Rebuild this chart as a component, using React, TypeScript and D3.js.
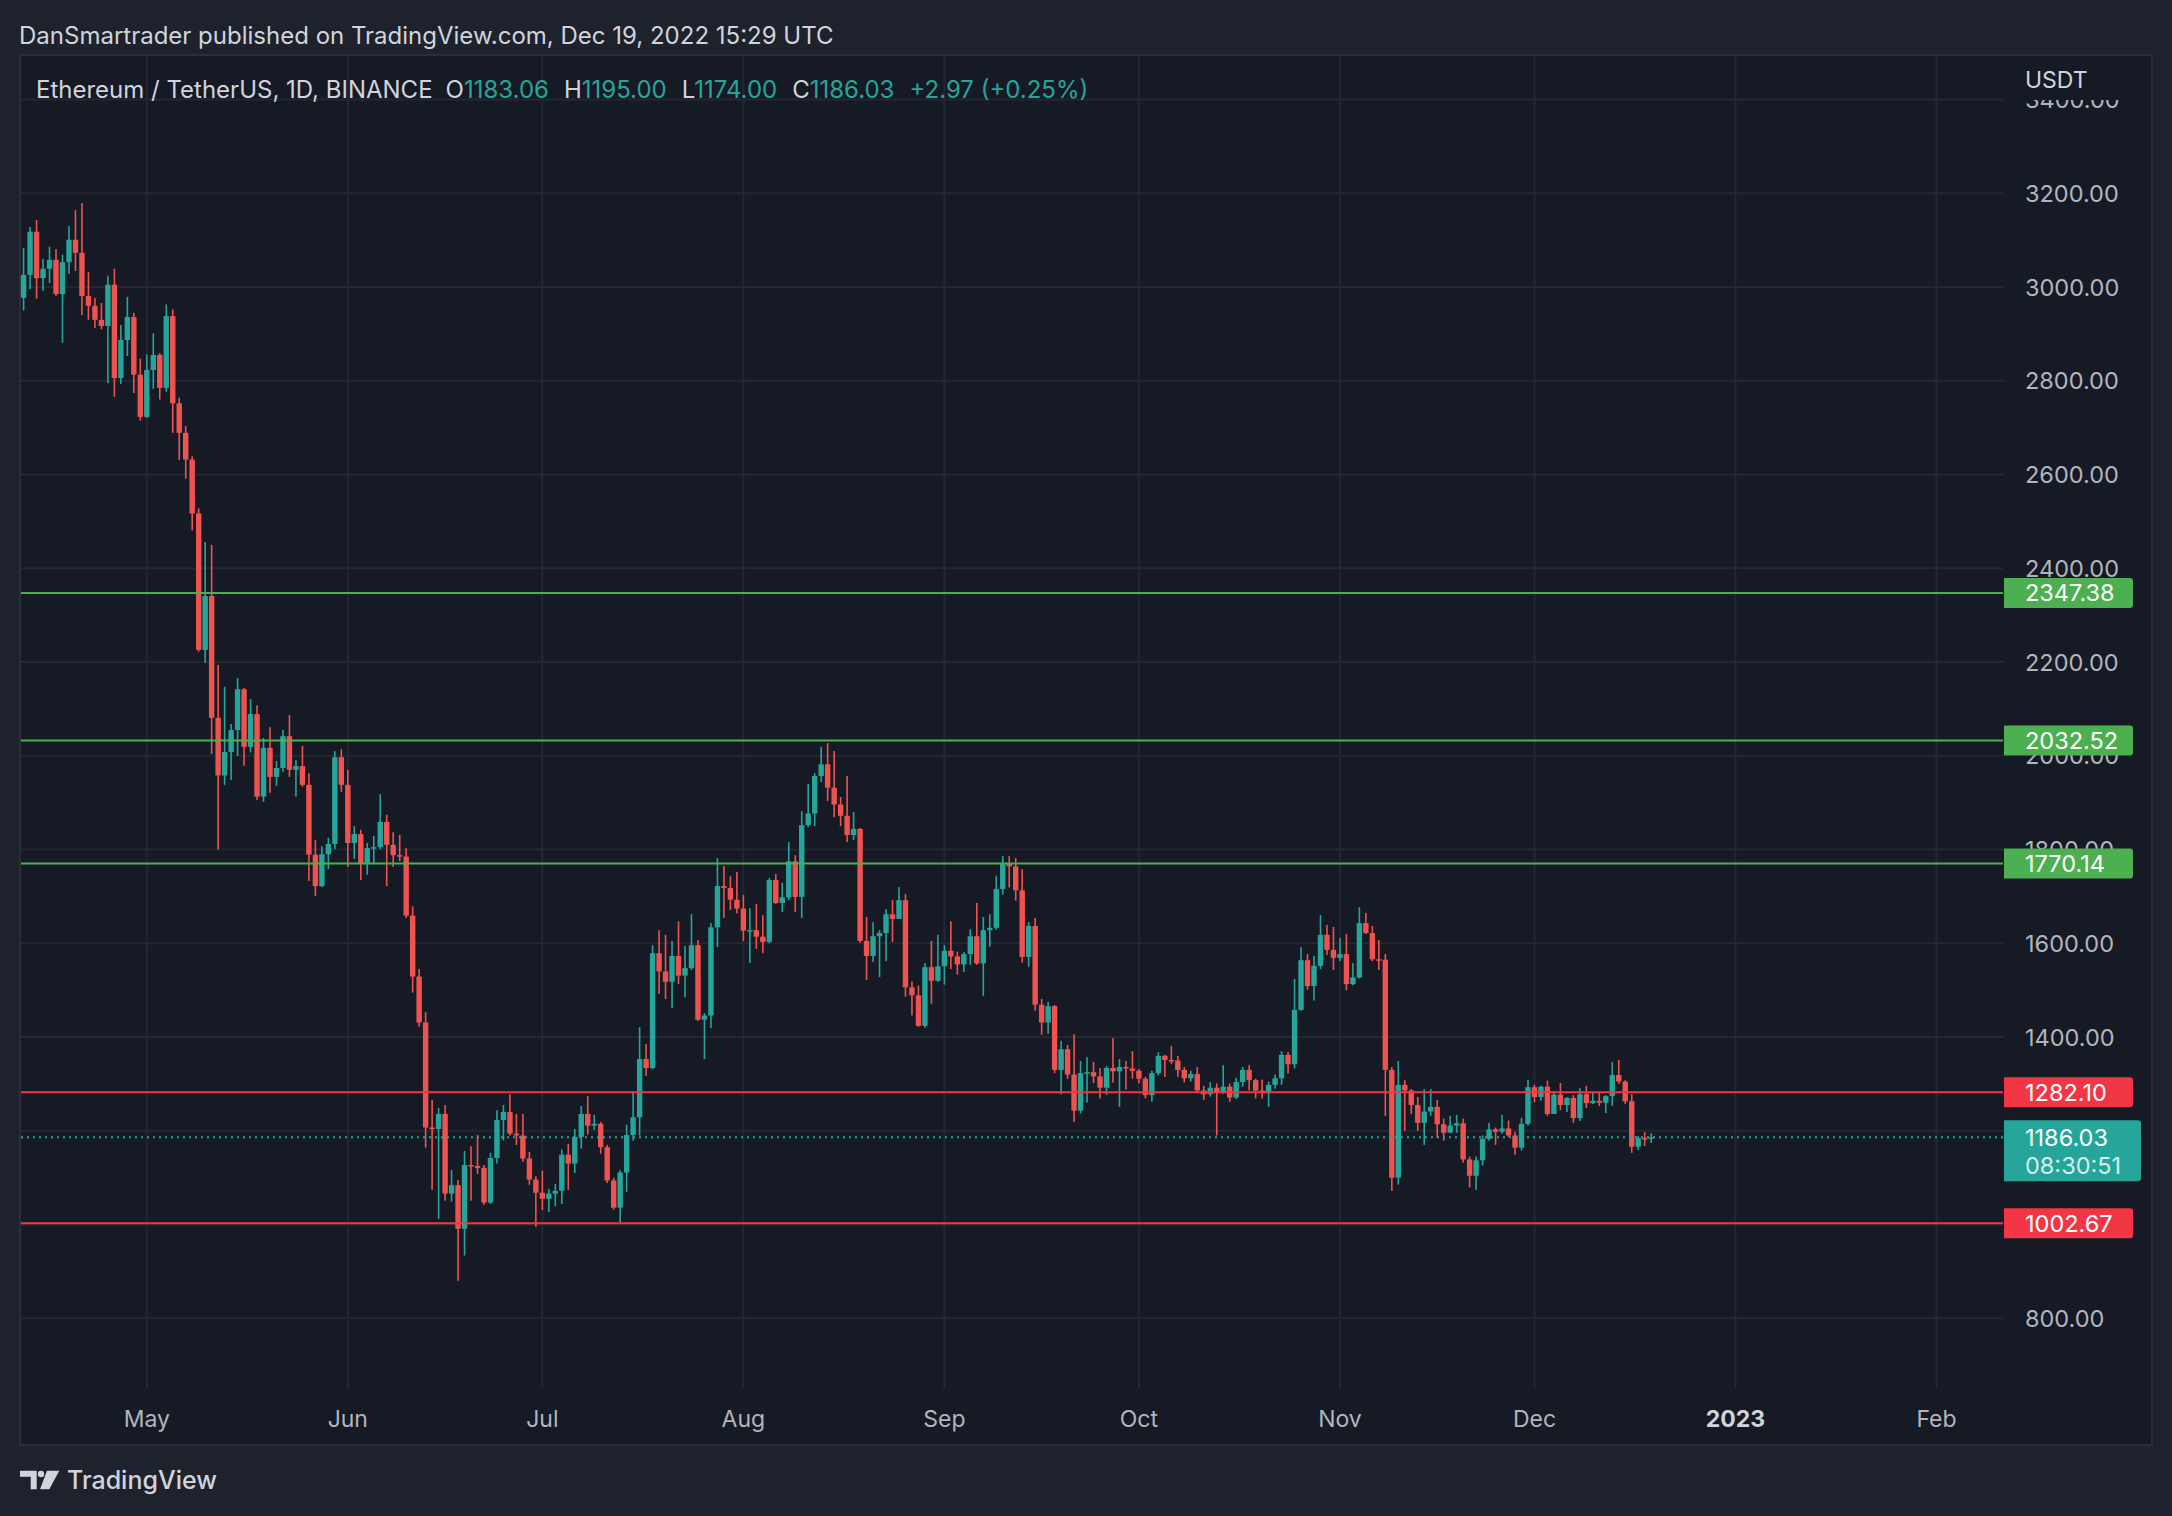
import React from 'react';
import * as d3 from 'd3';

const W = 2172;
const H = 1516;

// Daily candles [open, high, low, close], ETH/USDT Binance 1D
const apr22 = [ // from Apr 12
  [2977,3083,2950,3026],[3026,3128,2996,3118],[3118,3143,2975,3019],[3019,3060,2992,3039],
  [3039,3086,3009,3058],[3058,3081,2981,2985],[2985,3069,2881,3053],[3053,3130,3028,3101],
  [3101,3164,3034,3073],[3073,3179,2940,2981],[2981,3032,2930,2960],[2960,2977,2913,2930],
  [2930,2966,2910,2917],[2917,3024,2795,3005],[3005,3039,2766,2806],[2806,2919,2793,2887],
  [2887,2979,2853,2936],[2936,2945,2774,2813],[2813,2847,2715,2723],
];
const may22 = [
  [2723,2856,2721,2823],[2823,2901,2783,2855],[2855,2859,2760,2785],[2785,2963,2777,2938],
  [2938,2952,2689,2752],[2752,2764,2631,2689],[2689,2704,2591,2632],[2632,2639,2481,2517],
  [2517,2528,2222,2226],[2226,2456,2198,2341],[2341,2450,2004,2081],[2081,2194,1800,1958],
  [1958,2147,1938,2008],[2008,2068,1948,2055],[2055,2166,2000,2142],[2142,2145,1979,2019],
  [2019,2121,2007,2089],[2089,2108,1906,1913],[1913,2038,1902,2017],[2017,2061,1921,1955],
  [1955,1989,1936,1974],[1974,2055,1966,2042],[2042,2087,1955,1970],[1970,1991,1913,1978],
  [1978,2021,1934,1938],[1938,1963,1733,1789],[1789,1820,1701,1722],[1722,1807,1720,1790],
  [1790,1825,1758,1812],[1812,2010,1801,1997],[1997,2014,1923,1938],
];
const jun22 = [
  [1938,1970,1763,1814],[1814,1850,1780,1833],[1833,1842,1735,1769],[1769,1814,1746,1803],
  [1803,1829,1769,1805],[1805,1918,1801,1859],[1859,1874,1722,1810],[1810,1837,1763,1788],
  [1788,1831,1775,1785],[1785,1803,1654,1659],[1659,1679,1495,1529],[1529,1545,1422,1431],
  [1431,1453,1164,1207],[1207,1266,1074,1204],[1204,1249,1012,1236],[1236,1255,1051,1066],
  [1066,1116,1049,1084],[1084,1095,880,991],[991,1157,934,1127],[1127,1167,1051,1125],
  [1125,1191,1108,1121],[1121,1127,1042,1047],[1047,1153,1044,1142],[1142,1244,1130,1223],
  [1223,1255,1179,1240],[1240,1278,1190,1194],[1194,1236,1170,1190],[1190,1236,1134,1141],
  [1141,1155,1085,1096],[1096,1103,995,1068],
];
const jul22 = [
  [1068,1115,1031,1055],[1055,1076,1027,1066],[1066,1087,1039,1072],[1072,1160,1044,1149],
  [1149,1172,1074,1130],[1130,1204,1110,1187],[1187,1253,1162,1236],[1236,1274,1192,1211],
  [1211,1234,1202,1215],[1215,1219,1151,1165],[1165,1170,1089,1094],[1094,1100,1032,1036],
  [1036,1116,1004,1111],[1111,1213,1070,1191],[1191,1285,1179,1229],[1229,1421,1190,1353],
  [1353,1385,1317,1334],[1334,1596,1331,1579],[1579,1628,1492,1540],[1540,1618,1481,1518],
  [1518,1605,1462,1573],[1573,1647,1513,1531],[1531,1594,1485,1547],[1547,1662,1543,1596],
  [1596,1607,1434,1437],[1437,1451,1353,1446],[1446,1643,1419,1634],[1634,1782,1592,1722],
  [1722,1765,1654,1718],[1718,1743,1671,1693],[1693,1752,1664,1674],
];
const aug22 = [
  [1674,1703,1605,1627],[1627,1675,1558,1628],[1628,1684,1588,1614],[1614,1660,1579,1603],
  [1603,1739,1600,1735],[1735,1748,1684,1686],[1686,1729,1667,1698],[1698,1816,1692,1775],
  [1775,1788,1667,1699],[1699,1882,1654,1852],[1852,1940,1848,1877],[1877,1963,1850,1957],
  [1957,2019,1944,1982],[1982,2027,1904,1932],[1932,2010,1869,1896],[1896,1912,1850,1872],
  [1872,1957,1816,1831],[1831,1880,1820,1844],[1844,1846,1601,1605],[1605,1656,1522,1573],
  [1573,1645,1560,1615],[1615,1628,1528,1622],[1622,1673,1562,1662],[1662,1692,1603,1652],
  [1652,1720,1652,1692],[1692,1705,1486,1506],[1506,1518,1446,1489],[1489,1510,1422,1424],
  [1424,1558,1420,1549],[1549,1605,1471,1520],[1520,1618,1518,1551],
];
const sep22 = [
  [1551,1596,1512,1584],[1584,1647,1545,1572],[1572,1582,1533,1555],[1555,1581,1539,1577],
  [1577,1630,1554,1615],[1615,1686,1554,1557],[1557,1656,1488,1628],[1628,1662,1593,1633],
  [1633,1744,1629,1716],[1716,1786,1704,1771],[1771,1786,1719,1764],[1764,1782,1691,1713],
  [1713,1758,1559,1571],[1571,1645,1550,1637],[1637,1654,1456,1469],[1469,1481,1405,1431],
  [1431,1475,1407,1466],[1466,1468,1323,1330],[1330,1392,1278,1374],[1374,1383,1311,1320],
  [1320,1406,1219,1243],[1243,1349,1237,1323],[1323,1357,1260,1325],[1325,1347,1302,1316],
  [1316,1334,1269,1292],[1292,1338,1277,1334],[1334,1398,1303,1327],[1327,1353,1251,1336],
  [1336,1349,1288,1333],[1333,1370,1311,1328],
];
const oct22 = [
  [1328,1332,1301,1311],[1311,1315,1269,1276],[1276,1328,1262,1323],[1323,1368,1318,1360],
  [1360,1362,1315,1351],[1351,1381,1343,1350],[1350,1360,1315,1330],[1330,1336,1303,1312],
  [1312,1328,1305,1321],[1321,1336,1283,1286],[1286,1296,1266,1278],[1278,1304,1273,1292],
  [1292,1301,1190,1281],[1281,1340,1279,1294],[1294,1301,1262,1271],[1271,1313,1268,1304],
  [1304,1336,1294,1330],[1330,1340,1286,1308],[1308,1311,1269,1286],[1286,1309,1269,1282],
  [1282,1305,1251,1298],[1298,1320,1290,1312],[1312,1370,1298,1362],[1362,1368,1322,1342],
  [1342,1524,1333,1458],[1458,1592,1456,1564],[1564,1577,1501,1509],[1509,1573,1478,1552],
  [1552,1660,1545,1618],[1618,1639,1575,1586],[1586,1635,1543,1569],
];
const nov22 = [
  [1569,1611,1562,1577],[1577,1620,1500,1513],[1513,1558,1511,1527],[1527,1677,1525,1643],
  [1643,1665,1620,1622],[1622,1637,1562,1566],[1566,1607,1543,1565],[1565,1577,1232,1330],
  [1330,1336,1072,1100],[1100,1349,1085,1298],[1298,1308,1200,1286],[1286,1289,1236,1255],
  [1255,1272,1200,1217],[1217,1289,1170,1241],[1241,1289,1232,1251],[1251,1266,1185,1214],
  [1214,1226,1179,1196],[1196,1232,1195,1211],[1211,1234,1196,1216],[1216,1226,1132,1139],
  [1139,1145,1079,1104],[1104,1145,1074,1137],[1137,1190,1126,1183],[1183,1217,1179,1203],
  [1203,1207,1170,1198],[1198,1234,1194,1205],[1205,1222,1187,1190],[1190,1198,1149,1164],
  [1164,1228,1158,1215],[1215,1309,1211,1293],
];
const dec22 = [
  [1293,1298,1261,1272],[1272,1296,1264,1294],[1294,1307,1232,1236],[1236,1285,1236,1277],
  [1277,1302,1244,1255],[1255,1272,1240,1270],[1270,1276,1217,1227],[1227,1291,1221,1278],
  [1278,1296,1249,1259],[1259,1281,1257,1264],[1264,1281,1253,1260],[1260,1276,1238,1274],
  [1274,1347,1253,1319],[1319,1351,1300,1305],[1305,1308,1257,1263],[1263,1278,1153,1166],
  [1166,1189,1159,1184.5],[1184.5,1197,1167.5,1183.06],[1183.06,1195,1174,1186.03],
];

const monthBlocks: [number, number, number[][]][] = [
  [3, 12, apr22], [4, 1, may22], [5, 1, jun22], [6, 1, jul22], [7, 1, aug22],
  [8, 1, sep22], [9, 1, oct22], [10, 1, nov22], [11, 1, dec22],
];

const priceTicks = [800, 1000, 1200, 1400, 1600, 1800, 2000, 2200, 2400, 2600, 2800, 3000, 3200, 3400];
const timeTicks: [Date, string, boolean][] = [
  [new Date(Date.UTC(2022, 4, 1)), 'May', false],
  [new Date(Date.UTC(2022, 5, 1)), 'Jun', false],
  [new Date(Date.UTC(2022, 6, 1)), 'Jul', false],
  [new Date(Date.UTC(2022, 7, 1)), 'Aug', false],
  [new Date(Date.UTC(2022, 8, 1)), 'Sep', false],
  [new Date(Date.UTC(2022, 9, 1)), 'Oct', false],
  [new Date(Date.UTC(2022, 10, 1)), 'Nov', false],
  [new Date(Date.UTC(2022, 11, 1)), 'Dec', false],
  [new Date(Date.UTC(2023, 0, 1)), '2023', true],
  [new Date(Date.UTC(2023, 1, 1)), 'Feb', false],
];
const greenLevels = [2347.38, 2032.52, 1770.14];
const redLevels = [1282.10, 1002.67];
const lastPrice = 1186.03;
const countdown = '08:30:51';
const headerText = 'DanSmartrader published on TradingView.com, Dec 19, 2022 15:29 UTC';
const symbolText = 'Ethereum / TetherUS, 1D, BINANCE';
const legendOHLC: [string, string][] = [['O', '1183.06'], ['H', '1195.00'], ['L', '1174.00'], ['C', '1186.03']];
const legendChange = '+2.97 (+0.25%)';

const C_OUTER = '#1e222d';
const C_PANE = '#161a25';
const C_GRID = '#232732';
const C_BORDER = '#2a2e39';
const C_TEXT = '#b2b5be';
const C_TEXT2 = '#d1d4dc';
const C_UP = '#26a69a';
const C_DOWN = '#ef5350';
const C_GREEN = '#4caf50';
const C_RED = '#f23645';
const FONT = "Inter, 'Noto Sans', 'DejaVu Sans', sans-serif";
const AXIS_FS = 23.5;

const PANE_L = 20, PANE_T = 55, PANE_R = 2152, PANE_B = 1445;
const PLOT_R = 2003, PLOT_B = 1389;

export default function App() {
  const candles = monthBlocks.flatMap(([m, d0, arr]) =>
    arr.map((v, i) => ({ date: new Date(Date.UTC(2022, m, d0 + i)), o: v[0], h: v[1], l: v[2], c: v[3] }))
  );

  const x = d3.scaleUtc()
    .domain([new Date(Date.UTC(2022, 4, 1)), new Date(Date.UTC(2023, 1, 1))])
    .range([146.8, 1936.5]);
  const y = d3.scaleLinear().domain([800, 3200]).range([1318.3, 193.3]);

  const bodyW = 5.4;
  const fmt = d3.format('.2f');

  const labelBox = (p: number, color: string) => {
    const yy = y(p);
    const path = `M2004,${yy - 15} H2130 a3,3 0 0 1 3,3 V${yy + 12} a3,3 0 0 1 -3,3 H2004 Z`;
    return (
      <g key={'lb' + p}>
        <path d={path} fill={color} />
        <text x={2025} y={yy} dy="0.36em" fill="#ffffff" fontSize={AXIS_FS} fontFamily={FONT}>{fmt(p)}</text>
      </g>
    );
  };

  return (
    <svg width={W} height={H} viewBox={`0 0 ${W} ${H}`} style={{ display: 'block', position: 'absolute', left: 0, top: 0 }}>
      <rect x={0} y={0} width={W} height={H} fill={C_OUTER} />
      <text x={19} y={35} dy="0.36em" fill={C_TEXT2} fontSize={24} fontFamily={FONT}>{headerText}</text>

      <rect x={PANE_L} y={PANE_T} width={PANE_R - PANE_L} height={PANE_B - PANE_T} fill={C_PANE} stroke={C_BORDER} strokeWidth={2} />

      {/* grid */}
      <g>
        {priceTicks.map(p => (
          <line key={'hg' + p} x1={PANE_L + 1} x2={PLOT_R} y1={y(p)} y2={y(p)} stroke={C_GRID} strokeWidth={2} />
        ))}
        {timeTicks.map(([d, s]) => (
          <line key={'vg' + s} x1={x(d)} x2={x(d)} y1={PANE_T + 1} y2={PLOT_B} stroke={C_GRID} strokeWidth={2} />
        ))}
      </g>

      {/* candles */}
      <g>
        {candles.map((k, i) => {
          const cx = x(k.date);
          const up = k.c >= k.o;
          const col = up ? C_UP : C_DOWN;
          const top = y(Math.max(k.o, k.c));
          const bot = y(Math.min(k.o, k.c));
          return (
            <g key={i}>
              <rect x={cx - 0.8} y={y(k.h)} width={1.6} height={Math.max(1, y(k.l) - y(k.h))} fill={col} />
              <rect x={cx - bodyW / 2} y={top} width={bodyW} height={Math.max(1.5, bot - top)} fill={col} />
            </g>
          );
        })}
      </g>

      {/* level lines */}
      {greenLevels.map(p => (
        <line key={'gl' + p} x1={PANE_L + 1} x2={PLOT_R} y1={y(p)} y2={y(p)} stroke={C_GREEN} strokeWidth={2} />
      ))}
      {redLevels.map(p => (
        <line key={'rl' + p} x1={PANE_L + 1} x2={PLOT_R} y1={y(p)} y2={y(p)} stroke={C_RED} strokeWidth={2} />
      ))}
      <line x1={PANE_L + 1} x2={PLOT_R} y1={y(lastPrice)} y2={y(lastPrice)} stroke={C_UP} strokeWidth={2} strokeDasharray="2 4" />

      {/* price axis */}
      <g>
        {priceTicks.map(p => (
          <text key={'pt' + p} x={2025} y={y(p)} dy="0.36em" fill={C_TEXT} fontSize={AXIS_FS} fontFamily={FONT}>{fmt(p)}</text>
        ))}
        <rect x={PLOT_R + 1} y={PANE_T + 1} width={PANE_R - PLOT_R - 2} height={44} fill={C_PANE} />
        <text x={2025} y={80} dy="0.36em" fill={C_TEXT2} fontSize={23} fontFamily={FONT}>USDT</text>
      </g>

      {greenLevels.map(p => labelBox(p, C_GREEN))}
      {redLevels.map(p => labelBox(p, C_RED))}
      <g>
        <path d={`M2004,${y(lastPrice) - 17} H2138 a3,3 0 0 1 3,3 V${y(lastPrice) + 41} a3,3 0 0 1 -3,3 H2004 Z`} fill={C_UP} />
        <text x={2025} y={y(lastPrice)} dy="0.36em" fill="#ffffff" fontSize={AXIS_FS} fontFamily={FONT}>{fmt(lastPrice)}</text>
        <text x={2025} y={y(lastPrice) + 28} dy="0.36em" fill="rgba(255,255,255,0.82)" fontSize={AXIS_FS} fontFamily={FONT}>{countdown}</text>
      </g>

      {/* time axis */}
      <g>
        {timeTicks.map(([d, s, bold]) => (
          <text key={'tt' + s} x={x(d)} y={1419} dy="0.36em" textAnchor="middle" fill={bold ? C_TEXT2 : C_TEXT}
            fontSize={23} fontWeight={bold ? 700 : 400} fontFamily={FONT}>{s}</text>
        ))}
      </g>

      {/* legend */}
      <text y={89} dy="0.36em" fontSize={24} fontFamily={FONT}>
        <tspan x={36} fill={C_TEXT2}>{symbolText}</tspan>
        {legendOHLC.map(([k, v], i) => (
          <React.Fragment key={k}>
            <tspan dx={i === 0 ? 13 : 15} fill={C_TEXT2}>{k}</tspan>
            <tspan fill={C_UP}>{v}</tspan>
          </React.Fragment>
        ))}
        <tspan dx={15} fill={C_UP}>{legendChange}</tspan>
      </text>

      {/* TradingView logo */}
      <g fill={C_TEXT2}>
        <path d="M20,1470.7 H36.7 V1489.3 H30.7 V1476.7 H20 Z" />
        <circle cx={41} cy={1474} r={3.2} />
        <path d="M47,1470.7 H59.3 L49.3,1489.3 H40 Z" />
        <text x={67} y={1480} dy="0.36em" fontSize={25} fontWeight={500} fontFamily={FONT}>TradingView</text>
      </g>
    </svg>
  );
}
